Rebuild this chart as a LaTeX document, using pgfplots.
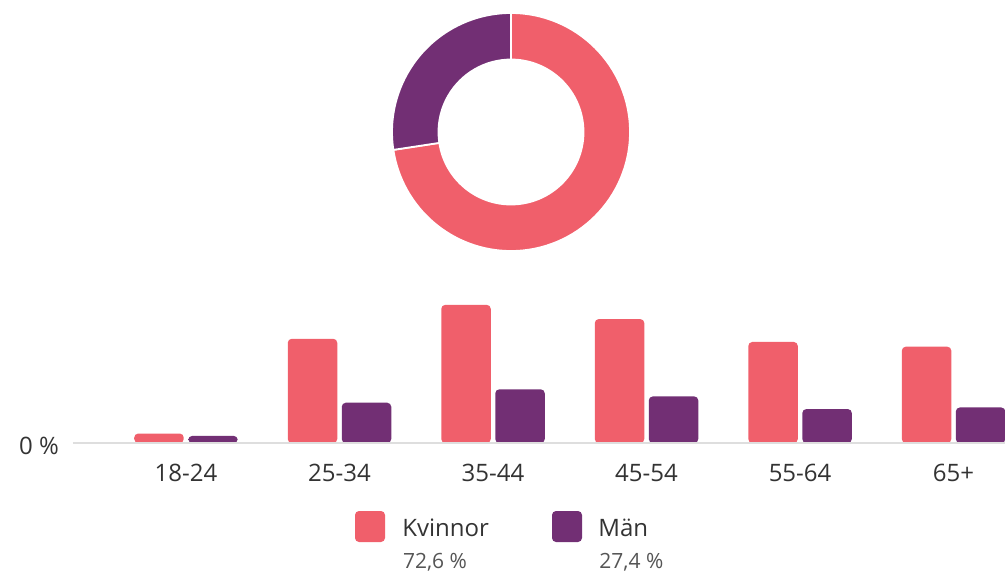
\documentclass[border=0pt]{standalone}
\usepackage{fontspec}
\setmainfont{Open Sans}
\usepackage{pgfplots}
\pgfplotsset{compat=1.18}
\usepackage{pgfplotstable}
\definecolor{kv}{HTML}{F05F6B}
\definecolor{mn}{HTML}{722F74}
\definecolor{txt}{HTML}{333333}
\definecolor{sub}{HTML}{555555}
\definecolor{base}{HTML}{DEDEDE}

% age group shares (% of all)
\pgfplotstableread{
x  grp    kv    mn
0  18-24  1.2   0.9
1  25-34  13.2  5.1
2  35-44  17.5  6.8
3  45-54  15.7  5.9
4  55-64  12.8  4.3
5  65+    12.2  4.5
}\agedata
% gender totals (%)
\def\totK{72.6}
\def\totM{27.4}

\begin{document}
\begin{tikzpicture}[font=\fontsize{12pt}{14pt}\selectfont, text=txt]
\useasboundingbox (0,0) rectangle (502.5pt,-286.5pt);
\pgfmathsetmacro{\angK}{90-3.6*\totK}
\pgfmathsetmacro{\rin}{36.25/59.5}

% ---- bar chart ----
\begin{axis}[
  at={(36.5pt,-221.5pt)}, anchor=south west,
  scale only axis, width=466pt, height=90pt,
  xmin=-0.736, xmax=5.335, ymin=0, ymax=22.8,
  axis x line*=bottom, axis y line*=left,
  y axis line style={draw=none},
  x axis line style={draw=base, line width=1pt, -},
  axis on top,
  xtick={0,...,5},
  xticklabels={18-24,25-34,35-44,45-54,55-64,65+},
  ytick={0}, yticklabels={0 \%},
  major tick length=0pt,
  xticklabel style={anchor=base, yshift=-19pt, text=txt},
  yticklabel style={anchor=base east, xshift=-3.5pt, yshift=-5.5pt, text=txt},
  ybar, bar width=24.75pt,
  clip=false,
]
\addplot[fill=kv, draw=none, bar shift=-13.5pt, rounded corners=2pt] table[x=x, y=kv]{\agedata};
\addplot[fill=mn, draw=none, bar shift=13.5pt, rounded corners=2pt] table[x=x, y=mn]{\agedata};
\end{axis}

% ---- donut ----
\begin{axis}[
  at={(255.5pt,-66pt)}, anchor=center,
  scale only axis, width=119pt, height=119pt,
  xmin=-1, xmax=1, ymin=-1, ymax=1,
  hide axis, clip=false,
]
\filldraw[fill=kv, draw=white, line width=0.9pt]
  (axis cs:0,1) arc[start angle=90, end angle=\angK, radius=59.5pt]
  -- (axis cs:{\rin*cos(\angK)},{\rin*sin(\angK)})
  arc[start angle=\angK, end angle=90, radius=36.25pt] -- cycle;
\filldraw[fill=mn, draw=white, line width=0.9pt]
  (axis cs:{cos(\angK)},{sin(\angK)}) arc[start angle=\angK, end angle=-270, radius=59.5pt]
  -- (axis cs:0,\rin)
  arc[start angle=-270, end angle=\angK, radius=36.25pt] -- cycle;
\end{axis}

% ---- legend ----
\fill[kv, rounded corners=2pt] (177.5pt,-255.5pt) rectangle (192.5pt,-271pt);
\node[anchor=base west, inner sep=0pt] at (201pt,-268pt) {Kvinnor};
\node[anchor=base west, inner sep=0pt, text=sub, font=\fontsize{10.5pt}{12pt}\selectfont] at (201.3pt,-284pt) {72,6 \%};
\fill[mn, rounded corners=2pt] (276pt,-255.5pt) rectangle (291pt,-271pt);
\node[anchor=base west, inner sep=0pt] at (299pt,-268pt) {Män};
\node[anchor=base west, inner sep=0pt, text=sub, font=\fontsize{10.5pt}{12pt}\selectfont] at (299.5pt,-284pt) {27,4 \%};
\end{tikzpicture}
\end{document}
